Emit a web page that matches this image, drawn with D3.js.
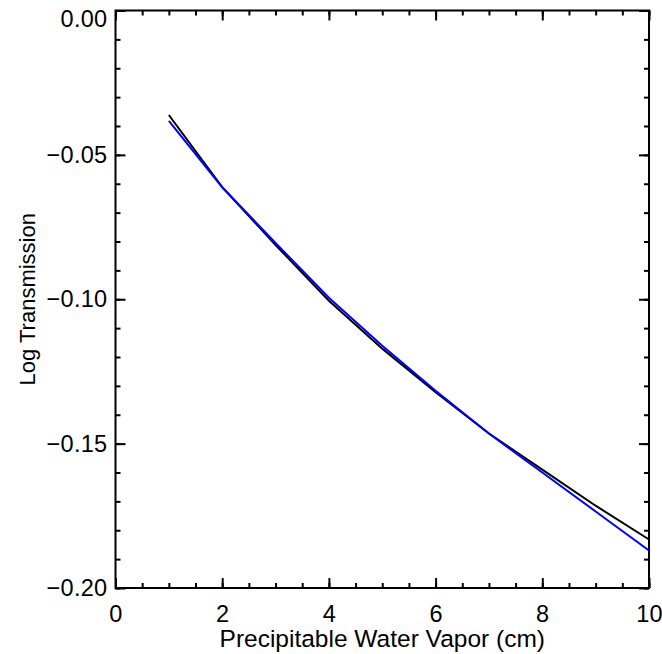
<!DOCTYPE html>
<html>
<head>
<meta charset="utf-8">
<script src="https://cdn.jsdelivr.net/npm/d3@7"></script>
<style>
body { margin: 0; background: #fff; }
text { font-family: "Liberation Sans", Arial, sans-serif; fill: #000; }
</style>
</head>
<body>
<script>
var width = 662,
    height = 654;

// precipitable water vapor (cm)
var pwv = [1, 2, 3, 4, 5, 6, 7, 8, 9, 10];
// log transmission, black curve
var logTransBlack = [-0.0362, -0.0612, -0.0812, -0.1005, -0.1171, -0.1322, -0.1465, -0.1590, -0.1715, -0.1832];
// log transmission, blue curve
var logTransBlue = [-0.0382, -0.0612, -0.0805, -0.0995, -0.1161, -0.1317, -0.1465, -0.1600, -0.1735, -0.1870];

var xTicks = [0, 2, 4, 6, 8, 10];
var yTicks = [0.00, -0.05, -0.10, -0.15, -0.20];

var margin = {left: 115.5, right: 13, top: 10.5, bottom: 66};

var svg = d3.select("body").append("svg").attr("width", width).attr("height", height);

var x = d3.scaleLinear()
    .domain([0, 10])
    .range([margin.left, width - margin.right]);
var y = d3.scaleLinear()
    .domain([-0.20, 0.00])
    .range([height - margin.bottom, margin.top]);

var fmtY = function(d) { return d3.format(".2f")(d).replace("-", "\u2212"); };

// x minor ticks every 0.5, y minor every 0.01
var xMinor = d3.range(0, 10.001, 0.5);
var yMinor = d3.range(-0.20, 0.0001, 0.01);

var x0 = margin.left, x1 = width - margin.right,
    y0 = height - margin.bottom, y1 = margin.top;

function axisStyle(g) {
    g.select(".domain").remove();
    g.selectAll("line").attr("stroke", "#000").attr("stroke-width", 2);
    g.selectAll("text").attr("font-size", "23.5px").attr("letter-spacing", "0.3px");
}

// bottom
svg.append("g").attr("transform", "translate(0," + y0 + ")")
    .call(d3.axisTop(x).tickValues(xMinor).tickSize(5).tickFormat(""))
    .call(axisStyle);
svg.append("g").attr("transform", "translate(0," + y0 + ")")
    .call(d3.axisTop(x).tickValues(xTicks).tickSize(10).tickFormat(""))
    .call(axisStyle);
svg.append("g").attr("transform", "translate(0," + y0 + ")")
    .call(d3.axisBottom(x).tickValues(xTicks).tickSize(0).tickPadding(17).tickFormat(d3.format("d")))
    .call(axisStyle);
// top
svg.append("g").attr("transform", "translate(0," + y1 + ")")
    .call(d3.axisBottom(x).tickValues(xMinor).tickSize(5).tickFormat(""))
    .call(axisStyle);
svg.append("g").attr("transform", "translate(0," + y1 + ")")
    .call(d3.axisBottom(x).tickValues(xTicks).tickSize(10).tickFormat(""))
    .call(axisStyle);
// left
svg.append("g").attr("transform", "translate(" + x0 + ",0)")
    .call(d3.axisRight(y).tickValues(yMinor).tickSize(5).tickFormat(""))
    .call(axisStyle);
svg.append("g").attr("transform", "translate(" + x0 + ",0)")
    .call(d3.axisRight(y).tickValues(yTicks).tickSize(10).tickFormat(""))
    .call(axisStyle);
var yLab = svg.append("g").attr("transform", "translate(" + x0 + ",0)")
    .call(d3.axisLeft(y).tickValues(yTicks).tickSize(0).tickPadding(8).tickFormat(fmtY))
    .call(axisStyle);
// top label sits a bit lower so it stays inside the page
yLab.selectAll(".tick").filter(d => d === 0).select("text").attr("dy", "0.66em");
// right
svg.append("g").attr("transform", "translate(" + x1 + ",0)")
    .call(d3.axisLeft(y).tickValues(yMinor).tickSize(5).tickFormat(""))
    .call(axisStyle);
svg.append("g").attr("transform", "translate(" + x1 + ",0)")
    .call(d3.axisLeft(y).tickValues(yTicks).tickSize(10).tickFormat(""))
    .call(axisStyle);

// frame
svg.append("rect")
    .attr("x", x0).attr("y", y1)
    .attr("width", x1 - x0).attr("height", y0 - y1)
    .attr("fill", "none").attr("stroke", "#000").attr("stroke-width", 2);

var line = d3.line()
    .x((d, i) => x(pwv[i]))
    .y(d => y(d));

svg.append("path").datum(logTransBlack)
    .attr("d", line).attr("fill", "none")
    .attr("stroke", "#000").attr("stroke-width", 2);
svg.append("path").datum(logTransBlue)
    .attr("d", line).attr("fill", "none")
    .attr("stroke", "#0000ff").attr("stroke-width", 2);

// axis titles
svg.append("text")
    .attr("x", (x0 + x1) / 2).attr("y", 647)
    .attr("text-anchor", "middle")
    .attr("font-size", "24.5px")
    .text("Precipitable Water Vapor (cm)");
svg.append("text")
    .attr("transform", "translate(35," + ((y0 + y1) / 2) + ") rotate(-90)")
    .attr("text-anchor", "middle")
    .attr("font-size", "22px")
    .text("Log Transmission");
</script>
</body>
</html>
